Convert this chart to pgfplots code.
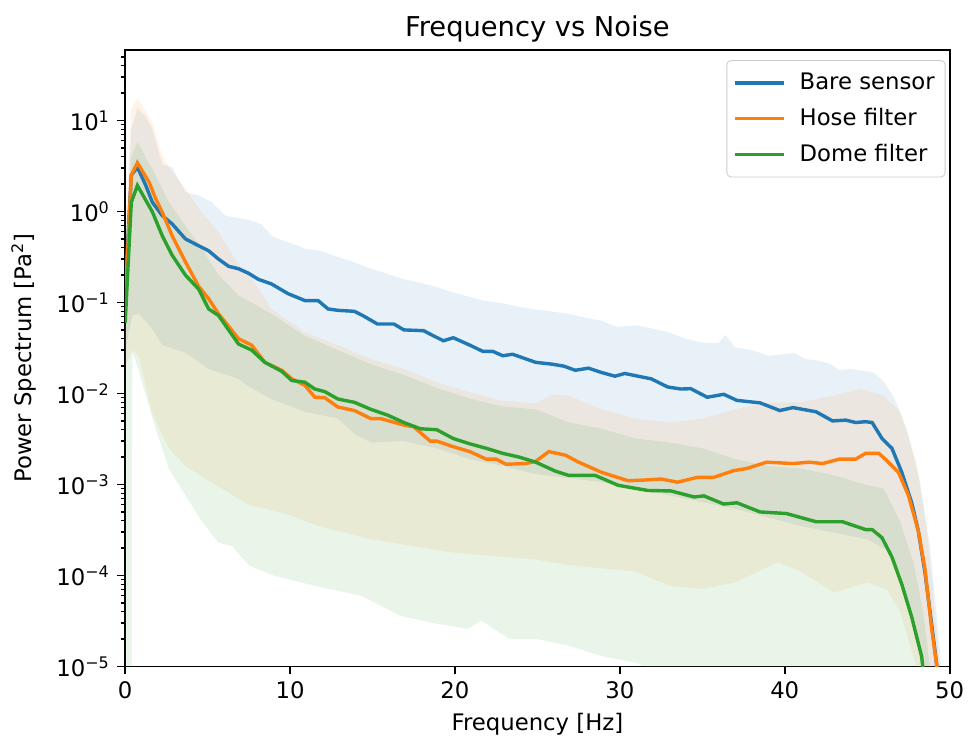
\documentclass[border=0pt]{standalone}
\usepackage{fontspec}
\setmainfont{DejaVu Sans}
\usepackage{pgfplots}
\pgfplotsset{compat=1.18}
\usepgfplotslibrary{fillbetween}
\definecolor{c0}{HTML}{1F77B4}
\definecolor{c1}{HTML}{FF7F0E}
\definecolor{c2}{HTML}{2CA02C}
\begin{document}
\begin{tikzpicture}
\begin{axis}[
  scale only axis, width=398.4pt, height=298.1pt,
  ymode=log, xmin=0, xmax=50, ymin=1e-5, ymax=60,
  xtick={0,10,20,30,40,50},
  ytick={1e-5,1e-4,1e-3,1e-2,1e-1,1,10},
  yticklabels={10\textsuperscript{−5},10\textsuperscript{−4},10\textsuperscript{−3},10\textsuperscript{−2},10\textsuperscript{−1},10\textsuperscript{0},10\textsuperscript{1}},
  minor ytick={2e-5,3e-5,4e-5,5e-5,6e-5,7e-5,8e-5,9e-5,
    2e-4,3e-4,4e-4,5e-4,6e-4,7e-4,8e-4,9e-4,
    2e-3,3e-3,4e-3,5e-3,6e-3,7e-3,8e-3,9e-3,
    2e-2,3e-2,4e-2,5e-2,6e-2,7e-2,8e-2,9e-2,
    0.2,0.3,0.4,0.5,0.6,0.7,0.8,0.9,2,3,4,5,6,7,8,9,20,30,40,50},
  tick align=outside, xtick pos=left, ytick pos=left,
  major tick length=3.85pt, minor tick length=2.2pt,
  major tick style={line width=0.88pt, black},
  minor tick style={line width=0.66pt, black},
  axis line style={line width=0.88pt},
  tick label style={font=\fontsize{11}{13}\selectfont},
  label style={font=\fontsize{11}{13}\selectfont},
  /pgf/number format/assume math mode=true,
  title={Frequency vs Noise},
  title style={font=\fontsize{13.2}{15}\selectfont, yshift=-6pt},
  xlabel={Frequency [Hz]},
  ylabel={Power Spectrum [Pa\textsuperscript{2}]},
  ylabel shift=3pt,
  legend cell align=left,
  legend style={at={(0.995,0.983)}, anchor=north east, draw=black!20, rounded corners=2pt,
    font=\fontsize{11}{13.2}\selectfont, row sep=3.5pt, inner xsep=3pt, inner ysep=4pt},
  legend image code/.code={\draw[#1] (0pt,0pt) -- (24pt,0pt); \path (28.5pt,0pt);},
]
% ---------------- bands ----------------
\addplot[name path=bu, draw=none, forget plot] table {
0 0.3
0.37 8
0.74 13.5
1.25 11
1.65 8
2.25 3.3
2.85 3.07
3.65 1.64
4.46 1.5
5.26 1.26
6.07 0.9
7.47 0.81
8.27 0.72
8.87 0.54
9.3 0.5
10.2 0.44
10.9 0.39
11.8 0.37
12.9 0.316
13.8 0.28
14.9 0.235
15.8 0.21
16.9 0.18
17.9 0.165
18.9 0.148
19.8 0.13
20.9 0.115
21.8 0.104
22.9 0.098
23.8 0.09
24.9 0.084
25.8 0.08
26.9 0.075
27.9 0.068
28.9 0.063
29.8 0.054
30.96 0.056
31.9 0.052
32.97 0.047
34.0 0.04
35.0 0.036
36.0 0.036
36.4 0.044
37.0 0.032
38.0 0.030
39.0 0.026
39.9 0.027
40.6 0.028
41.2 0.024
42.0 0.023
42.8 0.021
43.3 0.018
44.0 0.0186
45.4 0.017
46.0 0.0135
46.6 0.0092
47.4 0.0041
48.2 0.00106
48.8 0.00021
49.2 0.00004
49.5 0.00001
49.7 0.000001
};
\addplot[name path=bl, draw=none, forget plot] table {
0 0.03
0.44 0.072
0.84 0.075
1.65 0.051
2.25 0.034
3.66 0.028
5.06 0.0186
6.87 0.0145
7.47 0.012
8.87 0.0087
10.9 0.0063
12.9 0.0053
14.0 0.0035
14.9 0.0029
16.9 0.0030
18.9 0.0025
20.9 0.0019
22.9 0.0016
24.9 0.0013
28.9 0.00106
33 0.00076
37 0.00054
41 0.00035
45 0.00025
46.2 0.00019
47 0.00011
47.8 0.000026
48.3 0.00001
48.8 0.000001
};
\addplot[name path=ou, draw=none, forget plot] table {
0 0.5
0.37 13.5
0.74 17.5
1.65 9.6
2.25 4.1
2.85 2.7
3.65 1.78
4.46 1.07
5.66 0.59
6.87 0.26
7.47 0.21
8.87 0.085
10.9 0.047
12.9 0.034
14.9 0.024
16.9 0.0186
18.9 0.0133
20.9 0.0103
22.9 0.0083
24.9 0.0078
25.9 0.0098
26.9 0.0095
28.9 0.0067
30.96 0.0053
32.97 0.0048
35.0 0.0053
37 0.0067
39 0.008
41 0.008
43 0.0095
44.6 0.0112
46 0.0095
47 0.0063
48 0.00176
48.6 0.00033
49.0 0.00006
49.4 0.00001
49.7 0.000001
};
\addplot[name path=ol, draw=none, forget plot] table {
0 0.02
0.44 0.03
0.84 0.025
1.25 0.012
1.65 0.006
2.65 0.0025
3.65 0.0016
5.06 0.0011
7.47 0.0006
9.7 0.00048
11.7 0.00035
14.9 0.00025
19.7 0.00018
24.9 0.00015
26.9 0.00013
28.9 0.00012
31 0.00011
33 0.000077
35 0.000071
37 0.000084
39.6 0.00014
41 0.00011
43 0.000065
45 0.000084
46.2 0.00007
47 0.00004
47.6 0.000017
48 0.00001
48.5 0.000001
};
\addplot[name path=gu, draw=none, forget plot] table {
0 0.4
0.37 4
0.74 5.8
1.65 2.9
2.65 1.26
3.65 0.7
4.77 0.36
5.66 0.2
6.87 0.12
8.87 0.075
10.9 0.043
12.9 0.03
14.9 0.021
16.9 0.016
18.9 0.0115
20.9 0.0088
22.9 0.0072
24.9 0.0067
26.9 0.0048
28.9 0.0041
30.96 0.0032
32.97 0.0029
35.0 0.0025
37 0.0019
39 0.0016
41 0.0015
43 0.00126
45 0.00098
46 0.0009
47 0.00039
47.8 0.00014
48.4 0.00004
48.8 0.00001
49.1 0.000001
};
\addplot[name path=gl, draw=none, forget plot] table {
0 1e-40
0.44 0.028
0.74 0.02
1.25 0.0095
1.85 0.0041
2.65 0.00148
3.66 0.00076
4.66 0.00039
5.66 0.00023
6.5 0.00021
7.47 0.00013
9 0.0001
11.5 0.000077
14.3 0.00006
16.7 0.000036
18.7 0.00003
20.8 0.000026
21.6 0.000032
23.3 0.00002
25 0.00002
26.9 0.000017
28.9 0.000013
31 0.000011
32 0.000009
35 0.000006
40 0.000005
45 0.000004
48 0.000001
};
\addplot[c0, fill opacity=0.1, draw=none, forget plot] fill between[of=bu and bl];
\addplot[c1, fill opacity=0.1, draw=none, forget plot] fill between[of=ou and ol];
\addplot[c2, fill opacity=0.1, draw=none, forget plot] fill between[of=gu and gl];
% ---------------- lines ----------------
\addplot[c0, line width=1.65pt] table {
0 0.13
0.37 2.5
0.74 3.07
1.25 1.93
1.65 1.26
2.25 0.9
2.85 0.73
3.65 0.5
4.46 0.42
5.06 0.37
5.66 0.30
6.27 0.25
6.87 0.235
7.47 0.21
8.07 0.18
8.87 0.16
9.88 0.125
10.9 0.105
11.7 0.105
12.3 0.085
12.9 0.082
13.9 0.08
14.4 0.072
15.3 0.058
16.3 0.058
16.9 0.05
18.1 0.049
18.7 0.043
19.3 0.038
19.9 0.041
20.9 0.034
21.7 0.029
22.3 0.029
22.9 0.026
23.5 0.027
24.3 0.024
24.9 0.022
25.9 0.021
26.6 0.020
27.3 0.018
28.1 0.019
28.9 0.017
29.7 0.0155
30.3 0.0166
31.1 0.0155
31.9 0.0145
32.9 0.0118
33.7 0.0112
34.3 0.0113
35.3 0.0091
36.3 0.0098
37.1 0.0084
38.5 0.0079
39.7 0.0065
40.5 0.0070
41.9 0.0063
42.9 0.0050
43.7 0.0051
44.3 0.0048
44.9 0.0049
45.3 0.0048
45.9 0.0032
46.5 0.0025
47.1 0.00136
47.7 0.00063
48.1 0.00031
48.5 0.00011
48.9 0.00003
49.3 0.000008
49.6 0.000001
};
\addlegendentry{Bare sensor}
\addplot[c1, line width=1.65pt] table {
0 0.1
0.37 2.5
0.74 3.43
1.45 2.1
1.85 1.38
2.25 0.98
2.85 0.54
3.65 0.28
4.46 0.15
5.06 0.11
5.66 0.075
6.27 0.055
6.87 0.04
7.67 0.034
8.47 0.022
9.5 0.018
10.1 0.0145
10.9 0.0123
11.5 0.0091
12.1 0.009
12.9 0.0071
13.9 0.0065
14.9 0.0053
15.5 0.0053
16.9 0.0045
17.5 0.0043
18.5 0.0030
18.9 0.0030
19.9 0.0026
20.9 0.0023
21.9 0.0019
22.5 0.0019
23.1 0.00167
24.3 0.0017
24.9 0.0018
25.7 0.0023
26.7 0.0021
27.5 0.00176
28.9 0.00136
30.5 0.0011
31.5 0.00112
32.5 0.00115
33.5 0.00106
34.7 0.0012
35.7 0.0012
36.9 0.00142
37.7 0.0015
38.9 0.00176
40.5 0.0017
41.5 0.00176
42.3 0.0017
43.3 0.0019
44.3 0.0019
44.9 0.0022
45.7 0.0022
46.1 0.0019
46.9 0.00136
47.5 0.00076
48.1 0.00031
48.5 0.00012
48.9 0.000027
49.3 0.000008
49.6 0.000001
};
\addlegendentry{Hose filter}
\addplot[c2, line width=1.65pt] table {
0 0.06
0.37 1.26
0.74 1.93
1.65 0.99
2.25 0.54
2.85 0.33
3.65 0.2
4.46 0.14
5.06 0.085
5.66 0.072
6.27 0.05
6.87 0.035
7.67 0.03
8.47 0.022
9.5 0.0175
10.1 0.0139
10.9 0.0133
11.5 0.0112
12.1 0.0105
12.9 0.0087
13.9 0.008
14.9 0.0067
15.9 0.0058
16.9 0.0048
17.9 0.0041
18.9 0.0040
19.9 0.0032
20.9 0.0028
21.9 0.0025
22.9 0.0022
23.9 0.0020
24.9 0.00176
26.1 0.0014
26.9 0.00126
28.5 0.00126
29.9 0.00098
31.7 0.00086
33.1 0.00085
34.5 0.00073
35.1 0.00075
36.3 0.00061
37.1 0.00063
38.5 0.0005
40.1 0.00048
41.9 0.00039
43.5 0.00039
44.9 0.00032
45.3 0.00032
45.9 0.00026
46.5 0.00016
47.1 0.00008
47.7 0.000035
48.3 0.000013
48.7 0.000003
};
\addlegendentry{Dome filter}
\end{axis}
\path ([xshift=-60.5pt,yshift=-34.6pt]current axis.south west) rectangle ([xshift=7.2pt,yshift=24pt]current axis.north east);
\end{tikzpicture}
\end{document}
